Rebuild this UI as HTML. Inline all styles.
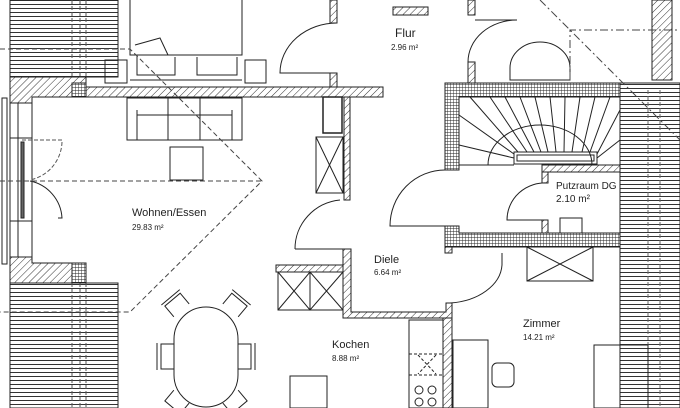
<!DOCTYPE html>
<html><head><meta charset="utf-8"><style>
html,body{margin:0;padding:0;background:#fff;}
svg{display:block;}
text{font-family:"Liberation Sans",sans-serif;fill:#222;}
</style></head><body>
<svg width="680" height="408" viewBox="0 0 680 408" xmlns="http://www.w3.org/2000/svg">
<defs>
<pattern id="hatch" width="5" height="5" patternUnits="userSpaceOnUse" patternTransform="rotate(45)">
<rect width="5" height="5" fill="#fff"/><line x1="0" y1="0" x2="0" y2="5" stroke="#333" stroke-width="1"/></pattern>
<pattern id="grid" width="3" height="3" patternUnits="userSpaceOnUse">
<rect width="3" height="3" fill="#fff"/><path d="M0 0H3M0 0V3" stroke="#222" stroke-width="0.9"/></pattern>
<pattern id="hstripe" width="10" height="4" patternUnits="userSpaceOnUse">
<rect width="10" height="4" fill="#fff"/><line x1="0" y1="0.5" x2="10" y2="0.5" stroke="#333" stroke-width="1"/></pattern>
</defs>
<g fill="none" stroke="#222" stroke-width="1">
<rect x="10" y="0" width="108" height="77" fill="url(#hstripe)"/>
<rect x="10" y="283" width="108" height="125" fill="url(#hstripe)"/>
<path d="M72 0V77M80 0V77M86 0V77M72 283V408M80 283V408M86 283V408" stroke-dasharray="4 2" stroke="#555"/>
<rect x="620" y="83" width="60" height="325" fill="url(#hstripe)"/>
<path d="M648 90V408M660 90V408" stroke-dasharray="4 2" stroke="#666"/>
<path d="M10 77H86V87H383V97H32V103H10Z" fill="url(#hatch)"/>
<rect x="72" y="83" width="14" height="14" fill="url(#grid)"/>
<path d="M10 257H32V263H86V283H10Z" fill="url(#hatch)"/>
<rect x="72" y="263" width="14" height="20" fill="url(#grid)"/>
<rect x="330" y="0" width="7" height="23" fill="url(#hatch)"/>
<rect x="330" y="73" width="7" height="14" fill="url(#hatch)"/>
<rect x="344" y="97" width="6" height="103" fill="url(#hatch)"/>
<rect x="468" y="0" width="7" height="15" fill="url(#hatch)"/>
<rect x="468" y="62" width="7" height="21" fill="url(#hatch)"/>
<rect x="393" y="7" width="35" height="8" fill="url(#hatch)"/>
<rect x="652" y="0" width="20" height="80" fill="url(#hatch)"/>
<rect x="276" y="265" width="67" height="7" fill="url(#hatch)"/>
<path d="M343 249H351V312H446V303H452V318H343Z" fill="url(#hatch)"/>
<rect x="443" y="318" width="9" height="90" fill="url(#hatch)"/>
<rect x="542" y="165" width="78" height="7" fill="url(#hatch)"/>
<rect x="542" y="172" width="6" height="11" fill="url(#hatch)"/>
<rect x="542" y="220" width="6" height="13" fill="url(#hatch)"/>
<rect x="445" y="247" width="7" height="6" fill="url(#hatch)"/>
<path d="M445 83H620V97H459V170H445Z" fill="url(#grid)"/>
<path d="M445 226H459V233H620V247H445Z" fill="url(#grid)"/>
<rect x="514" y="152" width="83" height="12"/><rect x="517" y="155" width="77" height="6"/>
<path d="M488 165A52 40 0 0 1 592 165"/>
<path d="M459 115L514 154M459 145L514 158M470 97L518 152M490 97L527 152M505 97L534 152M520 97L541 152M535 97L548 152M550 97L556 152M565 97L564 152M580 97L572 152M595 97L582 152M610 97L590 152M620 110L597 154M620 140L597 158M459 165H514"/>
<rect x="2" y="98" width="5" height="166"/>
<path d="M10 103V257M18 103V257M32 103V257M10 138H32M10 221H32"/>
<rect x="21" y="142" width="3" height="76" fill="#666"/>
<path d="M22 140H62A40 40 0 0 1 30 180" stroke-dasharray="4 2" stroke="#555"/>
<path d="M30 181A40 40 0 0 1 62 218H58"/>
<path d="M130 0V55H242V0M135 45L160 38L168 55M137 55V75H175V57M197 57V75H237V57M130 80H242"/>
<rect x="105" y="60" width="22" height="23"/><rect x="245" y="60" width="21" height="23"/>
<path d="M337 73H280A57 50 0 0 1 337 23"/>
<path d="M475 62H468A49 42 0 0 1 517 20H475"/>
<path d="M445 170A55 56 0 0 0 390 226H445"/>
<path d="M295 249A50 49 0 0 1 340 200M295 249H343"/>
<path d="M548 183A38 37 0 0 0 507 220H542"/>
<path d="M502 253V265A57 40 0 0 1 450 303"/>
<path d="M127 98H242V140H127ZM137 115H232M168 98V140M200 98V140M137 110V140M232 110V140"/>
<rect x="170" y="147" width="33" height="33"/>
<rect x="323" y="97" width="19" height="36" stroke-width="1.5"/>
<path d="M316 137H343V193H316ZM316 137L343 193M343 137L316 193"/>
<path d="M278 272H343V310H278ZM278 272L310 310L343 272M278 310L310 272L343 310M310 272V310"/>
<rect x="409" y="320" width="34" height="88"/>
<path d="M409 354H443M409 375H443M418 355L436 374M436 355L418 374" stroke-dasharray="3 2"/>
<circle cx="419" cy="390" r="4"/><circle cx="432" cy="390" r="4"/><circle cx="419" cy="402" r="4"/><circle cx="432" cy="402" r="4"/>
<rect x="290" y="376" width="37" height="32"/>
<!-- dining -->
<rect x="174" y="307" width="64" height="100" rx="32" ry="32"/>
<path d="M174 344H161V369H174M157 343V370"/>
<path d="M238 344H251V369H238M255 343V370"/>
<g transform="rotate(-40 177 305)"><path d="M167 312V298H187V312M165 295H189"/></g>
<g transform="rotate(40 235 305)"><path d="M225 312V298H245V312M223 295H247"/></g>
<g transform="rotate(40 177 402)"><path d="M167 395V409H187V395"/></g>
<g transform="rotate(-40 235 402)"><path d="M225 395V409H245V395"/></g>
<path d="M527 247H593V281H527ZM527 247L593 281M593 247L527 281"/>
<rect x="453" y="340" width="35" height="68"/>
<rect x="492" y="363" width="22" height="24" rx="5"/>
<rect x="594" y="345" width="54" height="63"/>
<rect x="560" y="218" width="22" height="15"/>
<path d="M510 80V68A15 13 0 0 1 570 68V80Z"/>
<path d="M0 49H130L262 181L130 312H0M0 181H262" stroke-dasharray="5 3" stroke="#444"/>
<path d="M570 80V30H680M540 0L680 140" stroke-dasharray="8 3 2 3" stroke="#444"/>
</g>
<text x="395" y="37" font-size="12">Flur</text>
<text x="391" y="50" font-size="8">2.96 m²</text>
<text x="132" y="216" font-size="11">Wohnen/Essen</text>
<text x="132" y="230" font-size="8">29.83 m²</text>
<text x="332" y="348" font-size="11">Kochen</text>
<text x="332" y="361" font-size="8">8.88 m²</text>
<text x="374" y="263" font-size="11">Diele</text>
<text x="374" y="275" font-size="8">6.64 m²</text>
<text x="523" y="327" font-size="11">Zimmer</text>
<text x="523" y="340" font-size="8">14.21 m²</text>
<text x="556" y="189" font-size="10">Putzraum DG</text>
<text x="556" y="202" font-size="10">2.10 m²</text>
</svg>
</body></html>
